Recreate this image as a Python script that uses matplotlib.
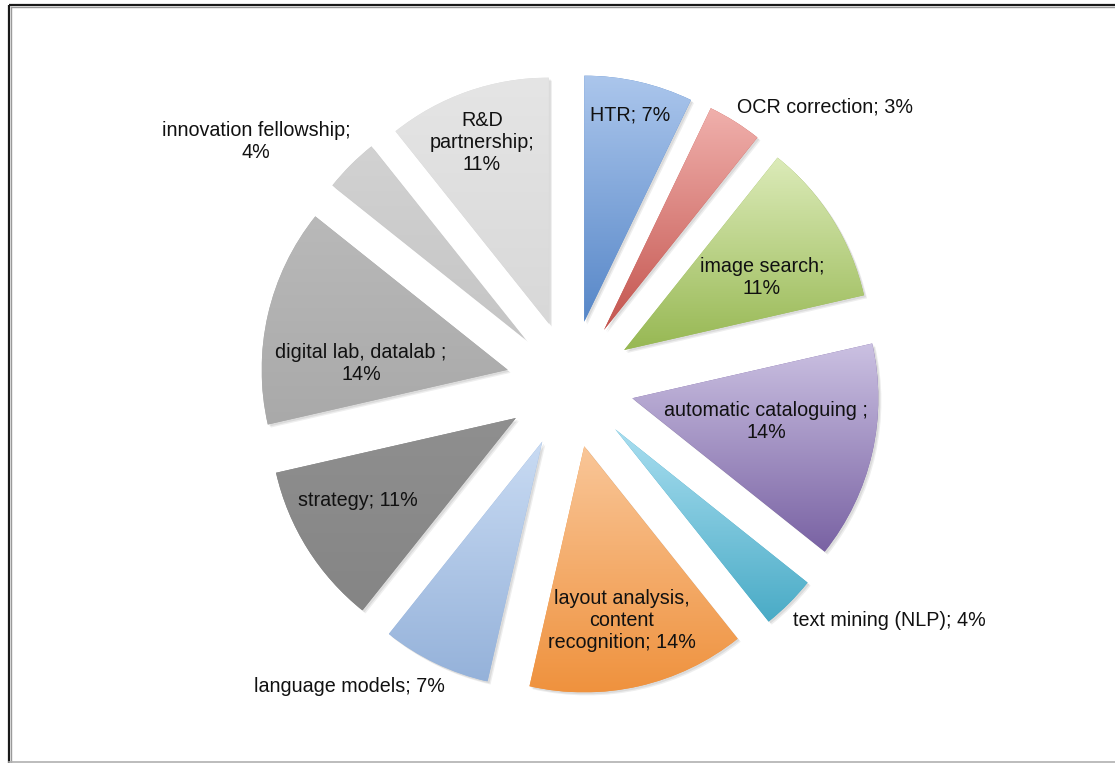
import matplotlib

matplotlib.use("Agg")
import matplotlib.pyplot as plt
import numpy as np
from matplotlib.colors import LinearSegmentedColormap
from matplotlib.patches import Shadow

# slices, clockwise from 12 o'clock
categories = [
    "HTR", "OCR correction", "image search", "automatic cataloguing ",
    "text mining (NLP)", "layout analysis, content recognition", "language models",
    "strategy", "digital lab, datalab ", "innovation fellowship", "R&D partnership",
]
# slice sizes as measured from the wedge angles (28 mentions in total)
slice_counts = [2, 1, 3, 4, 1, 4, 2, 3, 4, 1, 3]
# percentages printed on the labels
shown_pct = [7, 3, 11, 14, 4, 14, 7, 11, 14, 4, 11]

# label text as wrapped in the chart
label_text = [
    "HTR; 7%", "OCR correction; 3%", "image search;\n11%", "automatic cataloguing ;\n14%",
    "text mining (NLP); 4%", "layout analysis,\ncontent\nrecognition; 14%", "language models; 7%",
    "strategy; 11%", "digital lab, datalab ;\n14%", "innovation fellowship;\n4%", "R&D\npartnership;\n11%",
]

top_colors = [
    "#abc6ec", "#f0b0ac", "#dcebb9", "#cbc1e2", "#a9def0", "#f9c698",
    "#c9dbf3", "#8f8f8f", "#b9b9b9", "#d2d2d2", "#e5e5e5",
]
bottom_colors = [
    "#5787c8", "#c4554f", "#97b853", "#7962a3", "#49abc6", "#ef923e",
    "#95b2da", "#858585", "#a9a9a9", "#c5c5c5", "#d8d8d8",
]

# label anchor points in image pixels (x, y from top)
label_pos = [
    (630, 115), (825, 107), (762, 278), (766, 421), (889, 620), (622, 621),
    (349, 686), (358, 500), (361, 364), (256, 141), (482, 142),
]

W, H = 1115, 763
CENTER = (570, H - 384)
RADIUS = 246
EXPLODE = 0.26 * RADIUS  # pie() offsets wedges in data units


def main() -> None:
    fig = plt.figure(figsize=(W / 100, H / 100), dpi=100)
    ax = fig.add_axes([0, 0, 1, 1])

    wedges, _ = ax.pie(
        slice_counts,
        explode=[EXPLODE] * len(slice_counts),
        startangle=90,
        counterclock=False,
        radius=RADIUS,
        center=CENTER,
        wedgeprops=dict(linewidth=0),
    )

    grad = np.linspace(0, 1, 256).reshape(-1, 1)
    for w, top, bottom in zip(wedges, top_colors, bottom_colors):
        w.set_facecolor(bottom)
        w.set_zorder(2)
        for off, alpha in [(2.2, 0.10), (1.4, 0.12)]:
            sh = Shadow(w, off, -off, facecolor="0.35", alpha=alpha, linewidth=0)
            sh.set_zorder(1)
            ax.add_patch(sh)
        x0, y0, x1, y1 = w.get_path().get_extents().extents
        cmap = LinearSegmentedColormap.from_list("g", [bottom, top])
        im = ax.imshow(grad, extent=(x0, x1, y0, y1), origin="lower", cmap=cmap,
                       aspect="auto", interpolation="bilinear", zorder=3)
        im.set_clip_path(w)

    for text, (x, y) in zip(label_text, label_pos):
        ax.text(x, H - y, text, ha="center", va="center", fontsize=14.2,
                family=["Liberation Sans", "DejaVu Sans"], color="#111111",
                linespacing=1.2, zorder=5)

    # chart frame (top/left dark, bottom light)
    ax.plot([9, 9], [0, H - 5], color="#1a1a1a", lw=1.6, zorder=6, solid_capstyle="butt")
    ax.plot([9, W], [H - 5, H - 5], color="#1a1a1a", lw=1.6, zorder=6, solid_capstyle="butt")
    ax.plot([10.5, 10.5], [0, H - 6.5], color="#9a9a9a", lw=1, zorder=6)
    ax.plot([10.5, W], [H - 6.5, H - 6.5], color="#9a9a9a", lw=1, zorder=6)
    ax.plot([9, W], [1, 1], color="#b0b0b0", lw=1.2, zorder=6)

    ax.set_xlim(0, W)
    ax.set_ylim(0, H)
    ax.set_aspect("equal")
    ax.axis("off")
    fig.savefig("out.png", dpi=100, facecolor="white")
    plt.close(fig)


if __name__ == "__main__":
    main()
